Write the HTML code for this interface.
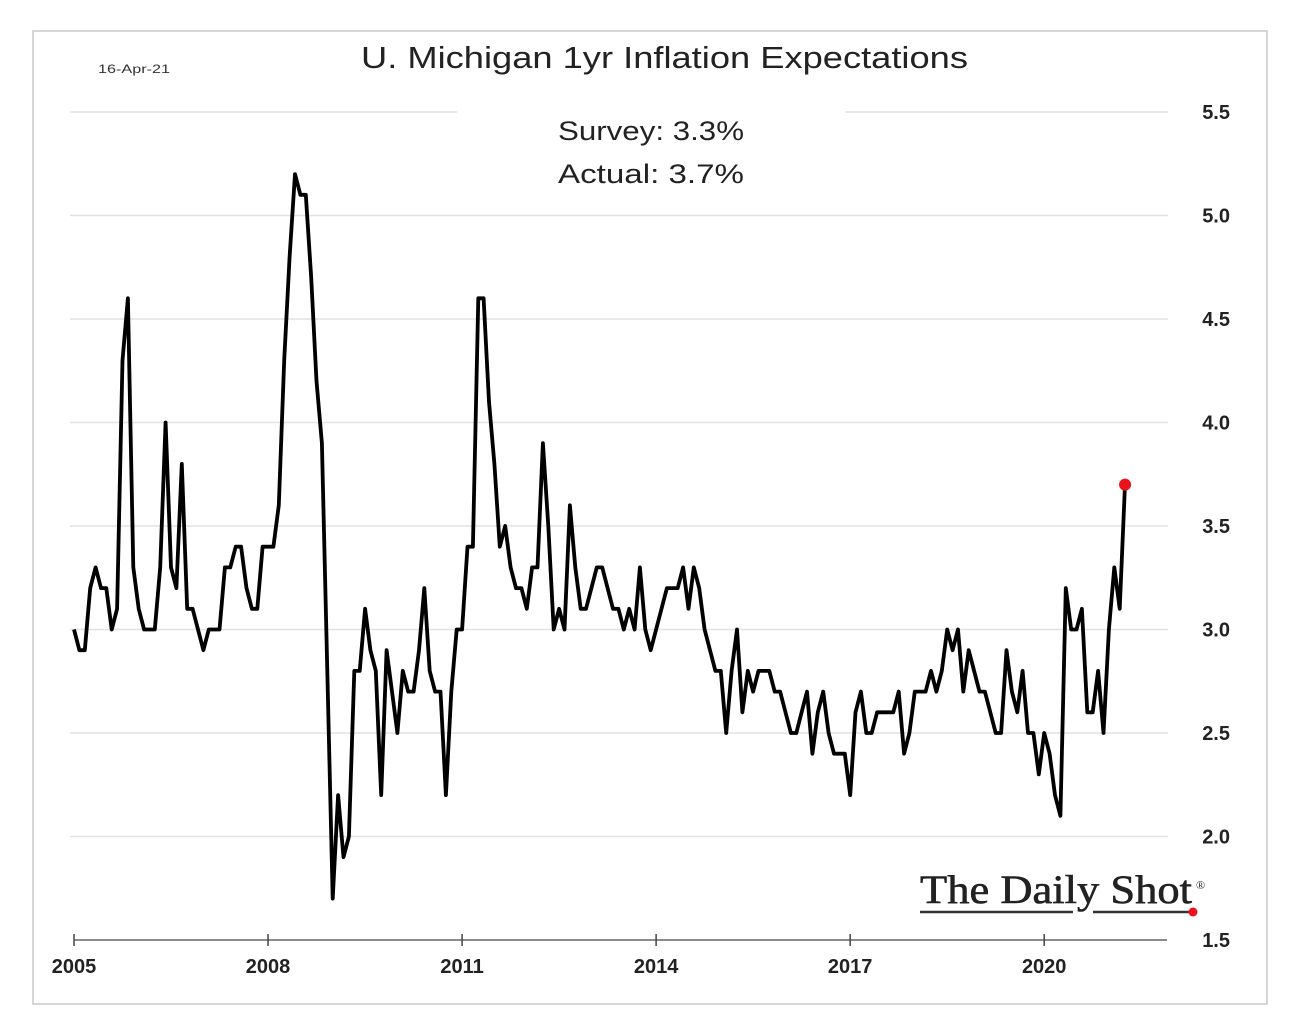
<!DOCTYPE html>
<html><head><meta charset="utf-8"><style>
body{margin:0;background:#fff;}
svg{display:block;font-family:"Liberation Sans",sans-serif;}
</style></head><body>
<svg id="chart" width="1290" height="1036" viewBox="0 0 1290 1036">
<rect x="33" y="31" width="1234" height="973" fill="#fff" stroke="#c8c8c8" stroke-width="1.5"/>
<g id="grid"></g>
<g id="yticks"></g>
<g id="xticks"></g>
<text x="361" y="68" font-size="31" fill="#222" textLength="607" lengthAdjust="spacingAndGlyphs">U. Michigan 1yr Inflation Expectations</text>
<text x="98" y="73" font-size="12" fill="#333" textLength="72" lengthAdjust="spacingAndGlyphs">16-Apr-21</text>
<text x="558" y="140" font-size="27" fill="#222" textLength="186" lengthAdjust="spacingAndGlyphs">Survey: 3.3%</text>
<text x="558" y="183" font-size="27" fill="#222" textLength="186" lengthAdjust="spacingAndGlyphs">Actual:  3.7%</text>
<g>
<text x="920" y="903" font-family="'Liberation Serif',serif" font-size="40" fill="#222" stroke="#222" stroke-width="0.6" textLength="272" lengthAdjust="spacingAndGlyphs">The Daily Shot</text>
<text x="1196" y="889" font-family="'Liberation Serif',serif" font-size="12" fill="#222">®</text>
<line x1="920" y1="912" x2="1073" y2="912" stroke="#333" stroke-width="2.5"/>
<line x1="1093" y1="912" x2="1190" y2="912" stroke="#333" stroke-width="2.5"/>
<circle cx="1193" cy="912" r="4.5" fill="#e8141a"/>
</g>
<path id="line" fill="none" stroke="#000" stroke-width="3.8" stroke-linejoin="round"/>
<circle id="lastdot" r="6" fill="#e8141a"/>
</svg>
<script>
const startYear = 2005;
const values = [
3.0,2.9,2.9,3.2,3.3,3.2,3.2,3.0,3.1,4.3,4.6,3.3,
3.1,3.0,3.0,3.0,3.3,4.0,3.3,3.2,3.8,3.1,3.1,3.0,
2.9,3.0,3.0,3.0,3.3,3.3,3.4,3.4,3.2,3.1,3.1,3.4,
3.4,3.4,3.6,4.3,4.8,5.2,5.1,5.1,4.7,4.2,3.9,2.8,
1.7,2.2,1.9,2.0,2.8,2.8,3.1,2.9,2.8,2.2,2.9,2.7,
2.5,2.8,2.7,2.7,2.9,3.2,2.8,2.7,2.7,2.2,2.7,3.0,
3.0,3.4,3.4,4.6,4.6,4.1,3.8,3.4,3.5,3.3,3.2,3.2,
3.1,3.3,3.3,3.9,3.5,3.0,3.1,3.0,3.6,3.3,3.1,3.1,
3.2,3.3,3.3,3.2,3.1,3.1,3.0,3.1,3.0,3.3,3.0,2.9,
3.0,3.1,3.2,3.2,3.2,3.3,3.1,3.3,3.2,3.0,2.9,2.8,
2.8,2.5,2.8,3.0,2.6,2.8,2.7,2.8,2.8,2.8,2.7,2.7,
2.6,2.5,2.5,2.6,2.7,2.4,2.6,2.7,2.5,2.4,2.4,2.4,
2.2,2.6,2.7,2.5,2.5,2.6,2.6,2.6,2.6,2.7,2.4,2.5,
2.7,2.7,2.7,2.8,2.7,2.8,3.0,2.9,3.0,2.7,2.9,2.8,
2.7,2.7,2.6,2.5,2.5,2.9,2.7,2.6,2.8,2.5,2.5,2.3,
2.5,2.4,2.2,2.1,3.2,3.0,3.0,3.1,2.6,2.6,2.8,2.5,
3.0,3.3,3.1,3.7];
const yTicks = [1.5,2.0,2.5,3.0,3.5,4.0,4.5,5.0,5.5];
const xTickYears = [2005,2008,2011,2014,2017,2020];
const NS='http://www.w3.org/2000/svg';
const xPx = m => 74 + m*5.39;
const yPx = v => 940 - (v-1.5)*207;
const grid=document.getElementById('grid'), yt=document.getElementById('yticks'), xt=document.getElementById('xticks');
yTicks.forEach(v=>{
  const y=yPx(v);
  if(v>1.5){
    const segs = v===5.5 ? [[70,457],[845,1168]] : [[70,1168]];
    segs.forEach(s=>{
      const l=document.createElementNS(NS,'line');
      l.setAttribute('x1',s[0]);l.setAttribute('x2',s[1]);l.setAttribute('y1',y);l.setAttribute('y2',y);
      l.setAttribute('stroke','#e2e2e2');l.setAttribute('stroke-width','1.5');
      
      
      grid.appendChild(l);
    });
  }
  const t=document.createElementNS(NS,'text');
  t.setAttribute('x',1230);t.setAttribute('y',y+7);t.setAttribute('text-anchor','end');
  t.setAttribute('font-size','20');t.setAttribute('font-weight','bold');t.setAttribute('fill','#222');
  t.textContent=v.toFixed(1);
  
  
  yt.appendChild(t);
});
const ax=document.createElementNS(NS,'line');
ax.setAttribute('x1',74);ax.setAttribute('x2',1167);ax.setAttribute('y1',940);ax.setAttribute('y2',940);
ax.setAttribute('stroke','#666');ax.setAttribute('stroke-width','1.5');


xt.appendChild(ax);
xTickYears.forEach(yr=>{
  const x=xPx((yr-startYear)*12);
  const tk=document.createElementNS(NS,'line');
  tk.setAttribute('x1',x);tk.setAttribute('x2',x);tk.setAttribute('y1',934);tk.setAttribute('y2',946);
  tk.setAttribute('stroke','#444');tk.setAttribute('stroke-width','1.5');
  
  
  xt.appendChild(tk);
  const t=document.createElementNS(NS,'text');
  t.setAttribute('x',x);t.setAttribute('y',973);t.setAttribute('text-anchor','middle');
  t.setAttribute('font-size','20');t.setAttribute('font-weight','bold');t.setAttribute('fill','#222');
  t.textContent=yr;
  
  
  xt.appendChild(t);
});
let d='';
values.forEach((v,i)=>{d+=(i?'L':'M')+xPx(i).toFixed(1)+','+yPx(v).toFixed(1);});
document.getElementById('line').setAttribute('d',d);
const last=values.length-1, dot=document.getElementById('lastdot');
dot.setAttribute('cx',xPx(last));dot.setAttribute('cy',yPx(values[last]));
</script>
</body></html>
